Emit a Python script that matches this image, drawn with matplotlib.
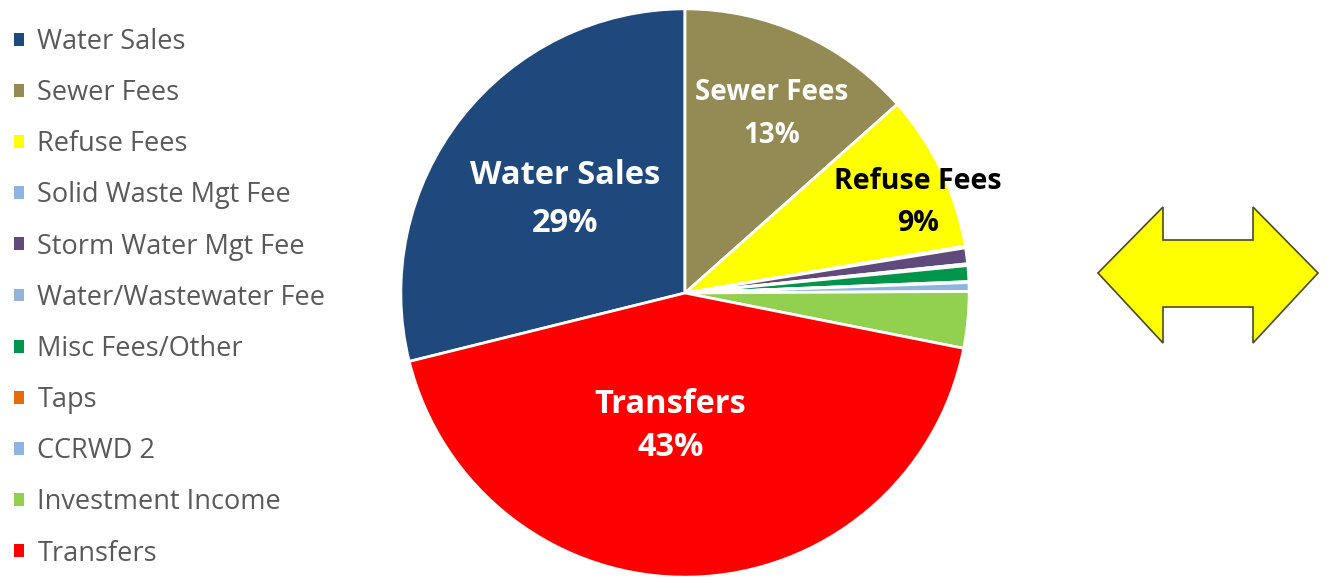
import matplotlib.pyplot as plt
from matplotlib.patches import Patch, Polygon
import numpy as np

plt.rcParams['font.family'] = ['Open Sans', 'DejaVu Sans']

# revenue categories (legend order, also the order round the pie, clockwise)
cats = ['Water Sales', 'Sewer Fees', 'Refuse Fees', 'Solid Waste Mgt Fee',
        'Storm Water Mgt Fee', 'Water/Wastewater Fee', 'Misc Fees/Other',
        'Taps', 'CCRWD 2', 'Investment Income', 'Transfers']
share = [28.8, 13.4, 8.9, 0.1, 0.9, 0.1, 0.9, 0.05, 0.5, 3.2, 42.9]
colors = ['#1f497d', '#948a54', '#ffff00', '#8db4e2', '#604a7b', '#95b3d7',
          '#00954b', '#e46c0a', '#8eb4e3', '#92d050', '#ff0000']

# labels inside the pie: (radius, angle shift from wedge middle, colour, size, line spacing)
lab = {'Water Sales': (0.535, 0.2, 'white', 23.5, 1.6),
       'Sewer Fees': (0.70, -1.7, 'white', 20, 1.62),
       'Refuse Fees': (0.88, -4.4, 'black', 20.5, 1.62),
       'Transfers': (0.47, -7.6, 'white', 23.5, 1.42)}

W, H = 1326, 579
fig = plt.figure(figsize=(W / 100, H / 100), dpi=100)

# background axes in pixel units for the arrow shape
bg = fig.add_axes([0, 0, 1, 1])
bg.set_xlim(0, W)
bg.set_ylim(H, 0)
bg.axis('off')

cx, cy, R = 685, 293, 287
ax = fig.add_axes([(cx - R) / W, (H - cy - R) / H, 2 * R / W, 2 * R / H])
total = sum(share)
start = 90 + share[0] / total * 360
wedges, _ = ax.pie(share, colors=colors, startangle=start, counterclock=False,
                   radius=1, wedgeprops=dict(edgecolor='white', linewidth=2))
ax.set_xlim(-1.01, 1.01)
ax.set_ylim(-1.01, 1.01)
ax.set_aspect('equal')
ax.axis('off')

for w, name, v in zip(wedges, cats, share):
    if name not in lab:
        continue
    r, dth, col, fs, ls = lab[name]
    mid = np.radians((w.theta1 + w.theta2) / 2 + dth)
    ax.text(r * np.cos(mid), r * np.sin(mid), f'{name}\n{v / total * 100:.0f}%',
            ha='center', va='center', color=col, fontsize=fs,
            fontweight='bold', linespacing=ls)

handles = [Patch(facecolor=c, edgecolor='none') for c in colors]
fig.legend(handles, cats, loc='upper left', bbox_to_anchor=(0.0106, 0.952),
           frameon=False, fontsize=19.5, labelcolor='#595959',
           handlelength=0.36, handleheight=0.36, handletextpad=0.5,
           labelspacing=0.856, borderaxespad=0, borderpad=0)

# double headed arrow on the right
arrow = Polygon([(1098, 273), (1163, 207), (1163, 240), (1253, 240), (1253, 207),
                 (1318, 273), (1253, 343), (1253, 307), (1163, 307), (1163, 343)],
                closed=True, facecolor='#ffff00', edgecolor='#4a4a2a', linewidth=1.2)
bg.add_patch(arrow)

plt.savefig('out.png', dpi=100)
